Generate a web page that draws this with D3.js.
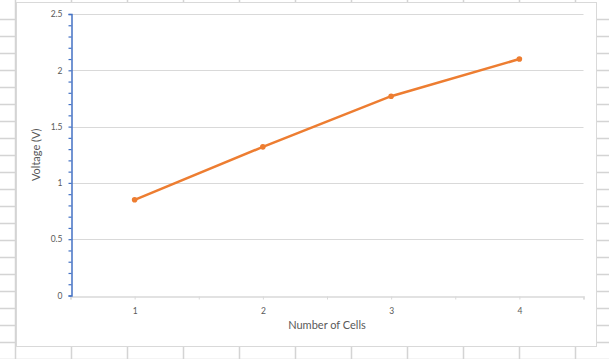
<!DOCTYPE html>
<html><head><meta charset="utf-8">
<script src="https://cdn.jsdelivr.net/npm/d3@7"></script>
<style>
html,body{margin:0;padding:0;background:#fff;}
svg{display:block;}
text{font-family:Lato,"Open Sans",sans-serif;fill:#595959;}
</style></head>
<body>
<svg id="c" width="609" height="359"></svg>
<script>
// Data
const cells = [1, 2, 3, 4];
const voltage = [0.85, 1.32, 1.77, 2.10];
const yTicks = [0, 0.5, 1, 1.5, 2, 2.5];
const xTickLabels = [1, 2, 3, 4];
const xTitle = "Number of Cells";
const yTitle = "Voltage (V)";

const svg = d3.select("#c");
const W = 609, H = 359;

// spreadsheet grid background
const gridColor = "#d4d4d4";
const bg = svg.append("g");
const colX = d3.range(15.5, W, 56);
const rowY = d3.range(2.5, H, 17);
bg.selectAll("line.col").data(colX).join("line")
  .attr("x1", d => d).attr("x2", d => d).attr("y1", 0).attr("y2", H)
  .attr("stroke", gridColor).attr("stroke-width", 1.5);
bg.selectAll("line.row").data(rowY).join("line")
  .attr("x1", 0).attr("x2", W).attr("y1", d => d + 17).attr("y2", d => d + 17)
  .attr("stroke", gridColor).attr("stroke-width", 1.5);

// chart area
svg.append("rect").attr("x", 16.5).attr("y", 2.5).attr("width", 580).attr("height", 344)
  .attr("fill", "#fff").attr("stroke", "#d9d9d9").attr("stroke-width", 1);

const x = d3.scaleLinear().domain([0.5, 4.5]).range([70.5, 583.5]);
const y = d3.scaleLinear().domain([0, 2.5]).range([295.5, 14]);

// horizontal gridlines
svg.append("g").selectAll("line").data(yTicks.filter(d => d > 0)).join("line")
  .attr("x1", x(0.5)).attr("x2", x(4.5))
  .attr("y1", d => Math.round(y(d)) + 0.5).attr("y2", d => Math.round(y(d)) + 0.5)
  .attr("stroke", "#d9d9d9").attr("stroke-width", 1);

// x axis
const xAxis = d3.axisBottom(x).tickValues(d3.range(0.5, 4.51, 0.5))
  .tickSize(3).tickPadding(8)
  .tickFormat(d => xTickLabels.includes(d) ? d : "");
const gx = svg.append("g").attr("transform", `translate(0,${Math.round(y(0)) + 0.5})`).call(xAxis);
gx.select(".domain").attr("stroke", "#d9d9d9").attr("stroke-width", 1.5);
gx.selectAll(".tick line").attr("stroke", "#d9d9d9");
gx.selectAll(".tick text").style("font-size", "8.5px").attr("fill", "#595959")
  .style("font-family", "Lato,'Open Sans',sans-serif");

// y axis
const yAxis = d3.axisLeft(y).tickValues(d3.range(0, 25.1, 1).map(d => d / 10))
  .tickSize(3).tickPadding(6)
  .tickFormat(d => yTicks.some(t => Math.abs(t - d) < 1e-9) ? d3.format("")(+d.toFixed(1)) : "");
const gy = svg.append("g").attr("transform", `translate(${Math.round(x(0.5)) + 0.5},0)`).call(yAxis);
gy.select(".domain").attr("stroke", "#4472C4").attr("stroke-width", 1.5);
gy.selectAll(".tick line").attr("stroke", "#4472C4").attr("stroke-width", 1.2);
gy.selectAll(".tick text").style("font-size", "8.5px").attr("fill", "#595959")
  .style("font-family", "Lato,'Open Sans',sans-serif");

// line
const pts = cells.map((c, i) => [c, voltage[i]]);
svg.append("path").datum(pts)
  .attr("d", d3.line().x(d => x(d[0])).y(d => y(d[1])))
  .attr("fill", "none").attr("stroke", "#ED7D31").attr("stroke-width", 2.5)
  .attr("stroke-linecap", "round");
svg.append("g").selectAll("circle").data(pts).join("circle")
  .attr("cx", d => x(d[0])).attr("cy", d => y(d[1])).attr("r", 2.8)
  .attr("fill", "#ED7D31");

// titles
svg.append("text").attr("x", x(2.5)).attr("y", 329)
  .attr("text-anchor", "middle").style("font-size", "11px").text(xTitle);
svg.append("text").attr("transform", `translate(40,${(y(0) + y(2.5)) / 2}) rotate(-90)`)
  .attr("text-anchor", "middle").style("font-size", "11px").text(yTitle);
</script>
</body></html>
